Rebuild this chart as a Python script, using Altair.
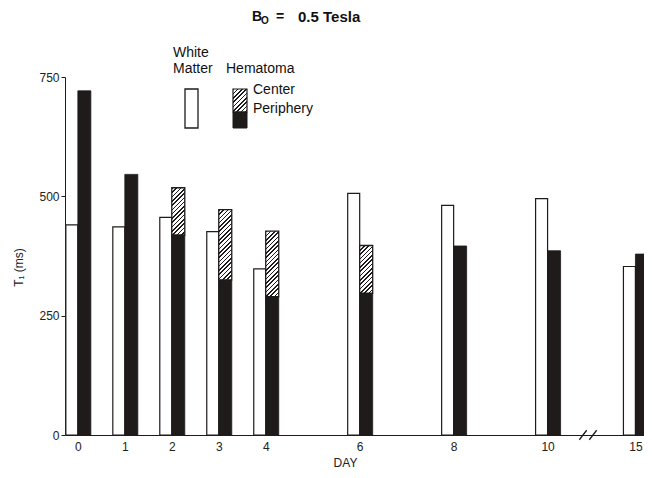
import altair as alt
import pandas as pd

# ---- data ----
days = [0, 1, 2, 3, 4, 6, 8, 10, 15]
white_matter = [440, 436, 456, 426, 348, 506, 481, 495, 353]
periphery = [721, 546, 419, 325, 290, 297, 396, 386, 379]
center = [None, None, 518, 472, 427, 397, None, None, None]
y_ticks = [0, 250, 500, 750]

# ---- layout / style ----
FONT = "Liberation Sans"
INK = "#1f1b1b"
W, H = 579, 358
PAD = {"left": 57, "top": 77 - 8, "right": 0, "bottom": 35}
X_MIN, X_MAX = -0.167, 11.946
BREAK_FACTOR = 0.374   # compressed spacing after the axis break (10 -> 15)
WB, BB = 12, 13        # bar widths (px)
PX_PER_MS = H / 750.0


def axis_pos(d):
    return d if d <= 10 else 10 + (d - 10) * BREAK_FACTOR


def hatch(w, h, period=4.3, ink=1.6, bg="white", fg=INK):
    L = w + h
    stops = [{"offset": 0, "color": bg}]
    n = 0
    while n * period < L:
        s = n * period / L
        e = min((n * period + ink) / L, 1.0)
        stops += [{"offset": s, "color": bg}, {"offset": s, "color": fg},
                  {"offset": e, "color": fg}, {"offset": e, "color": bg}]
        n += 1
    stops.append({"offset": 1, "color": bg})
    c = L / (w * w + h * h)
    return {"gradient": "linear", "x1": 0, "y1": 0, "x2": c * w, "y2": c * h,
            "stops": stops}


df = pd.DataFrame({
    "day": days,
    "pos": [axis_pos(d) for d in days],
    "white": white_matter,
    "periphery": periphery,
    "center": center,
})

xscale = alt.Scale(domain=[X_MIN, X_MAX], nice=False, zero=False)
yscale = alt.Scale(domain=[0, 750], nice=False)

pos10 = axis_pos(10)
label_expr = f"datum.value > {pos10 + 0.5} ? '{days[-1]}' : format(datum.value, 'd')"

x_axis = alt.Axis(values=[axis_pos(d) for d in days], labelExpr=label_expr,
                  ticks=False, grid=False, title="DAY", titleX=280, titleY=31,
                  titleBaseline="alphabetic", titleAnchor="middle",
                  labelPadding=6, labelFontSize=12, titleFontSize=12,
                  titleFontWeight="normal", labelColor="#222", titleColor="#222",
                  domainColor=INK, labelFont=FONT, titleFont=FONT)
y_axis = alt.Axis(values=y_ticks, grid=False, title="T₁ (ms)", tickSize=4,
                  tickColor=INK, domainColor=INK, labelFontSize=12,
                  titleFontSize=12, titleFontWeight="normal", titleX=-40,
                  titleY=190, labelColor="#222", titleColor="#222",
                  labelFont=FONT, titleFont=FONT)

base = alt.Chart(df)

white_bars = base.mark_bar(width=WB, xOffset=-WB / 2, fill="white", stroke=INK,
                           strokeWidth=1.2, clip=True).encode(
    x=alt.X("pos:Q", scale=xscale, axis=x_axis),
    y=alt.Y("white:Q", scale=yscale, axis=y_axis),
)

black_bars = base.mark_bar(width=BB, xOffset=BB / 2, fill=INK, stroke=INK,
                           strokeWidth=0.8, clip=True).encode(
    x=alt.X("pos:Q", scale=xscale),
    y=alt.Y("periphery:Q", scale=yscale),
)

layers = [white_bars, black_bars]

for d, p, c in zip(days, periphery, center):
    if c is None:
        continue
    h = (c - p) * PX_PER_MS
    one = pd.DataFrame({"pos": [axis_pos(d)], "center": [c], "periphery": [p]})
    layers.append(
        alt.Chart(one).mark_bar(width=BB, xOffset=BB / 2, fill=hatch(BB, h),
                                stroke=INK, strokeWidth=1.3).encode(
            x=alt.X("pos:Q", scale=xscale),
            y=alt.Y("center:Q", scale=yscale),
            y2="periphery:Q",
        )
    )

# axis break mark
brk = pd.DataFrame({"pos": [pos10 + 0.46 * (axis_pos(days[-1]) - pos10)], "v": [0]})
layers.append(
    alt.Chart(brk).mark_point(shape="M -1 0.55 L -0.15 -0.55 M 0.15 0.55 L 1 -0.55",
                              stroke=INK, strokeWidth=1.3, size=300, filled=False,
                              opacity=1).encode(
        x=alt.X("pos:Q", scale=xscale), y=alt.Y("v:Q", scale=yscale))
)

one_row = alt.Data(values=[{"a": 1}])


def txt(text, x, y, size=14, weight="normal", baseline="middle", align="left"):
    return alt.Chart(one_row).mark_text(
        text=text, font=FONT, fontSize=size, fontWeight=weight, align=align,
        baseline=baseline, color="#111").encode(x=alt.value(x), y=alt.value(y))


# title  B_O = 0.5 Tesla
layers += [
    txt("B", 187, -56, size=14, weight="bold", baseline="alphabetic"),
    txt("O", 196, -53, size=10, weight="bold", baseline="alphabetic"),
    txt("=", 211, -56, size=14, weight="bold", baseline="alphabetic"),
    txt("0.5 Tesla", 233, -55, size=15, weight="bold", baseline="alphabetic"),
]

# custom legend
layers += [
    txt("White", 108, -24),
    txt("Matter", 108, -8),
    txt("Hematoma", 161, -8),
    txt("Center", 188, 13),
    txt("Periphery", 188, 32),
    alt.Chart(one_row).mark_rect(fill="white", stroke=INK, strokeWidth=1.3).encode(
        x=alt.value(120), x2=alt.value(133), y=alt.value(12), y2=alt.value(51)),
    alt.Chart(one_row).mark_rect(fill=hatch(14, 23), stroke=INK, strokeWidth=1.2).encode(
        x=alt.value(168), x2=alt.value(182), y=alt.value(12), y2=alt.value(35)),
    alt.Chart(one_row).mark_rect(fill=INK, stroke=INK, strokeWidth=1).encode(
        x=alt.value(168), x2=alt.value(182), y=alt.value(35), y2=alt.value(51)),
]

chart = alt.layer(*layers).properties(
    width=W, height=H,
    autosize=alt.AutoSizeParams(type="none"),
    padding=PAD,
    background="white",
).configure_view(stroke=None)

chart.save("out.html", embed_options={"renderer": "svg", "actions": False})
